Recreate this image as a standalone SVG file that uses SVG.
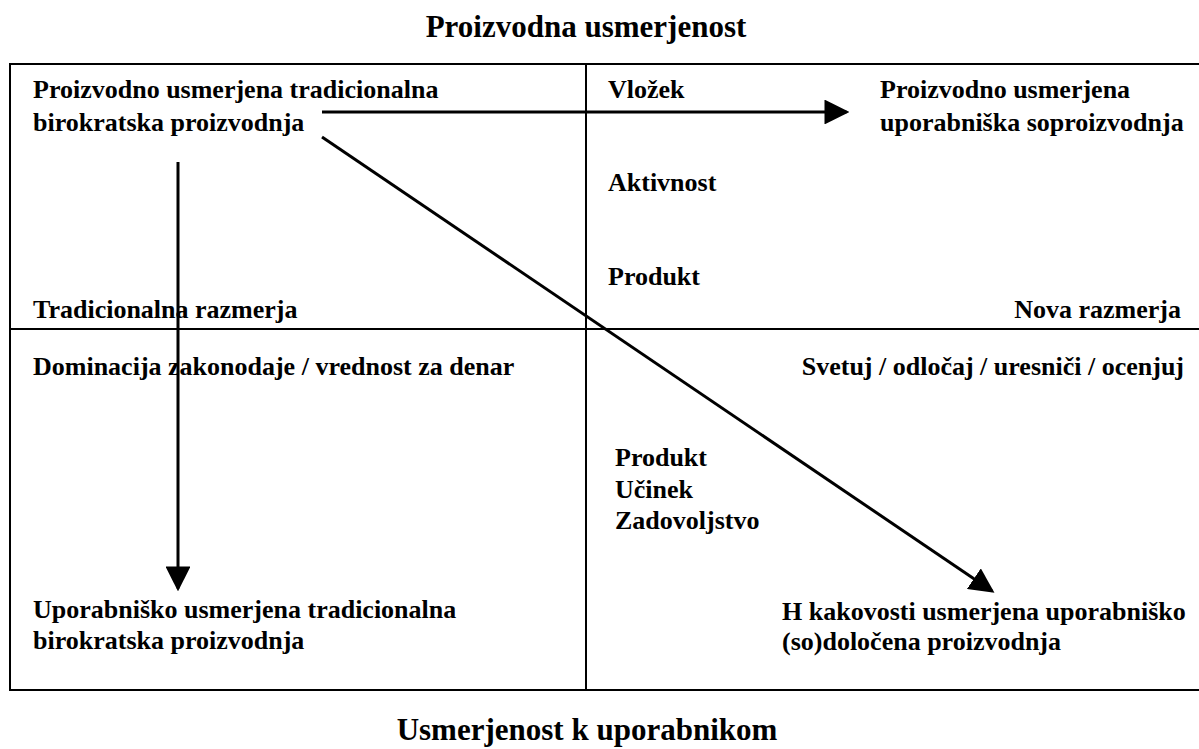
<svg xmlns="http://www.w3.org/2000/svg" width="1199" height="749" viewBox="0 0 1199 749">
  <style>
    .t { font-family: "Liberation Serif", "Times New Roman", serif; font-weight: bold; font-size: 26px; fill: #000; }
    .h { font-family: "Liberation Serif", "Times New Roman", serif; font-weight: bold; font-size: 31px; fill: #000; text-anchor: middle; }
    .frame { fill: none; stroke: #000; stroke-width: 2; }
    .arrow { fill: none; stroke: #000; stroke-width: 3; }
  </style>
  <defs>
    <marker id="head" viewBox="0 0 10 10" refX="8.8" refY="5" markerWidth="8.3" markerHeight="8.3" markerUnits="strokeWidth" orient="auto">
      <path d="M0,0 L10,5 L0,10 Z" fill="#000"/>
    </marker>
  </defs>

  <rect width="1199" height="749" fill="#fff"/>

  <text class="h" x="586" y="37">Proizvodna usmerjenost</text>
  <text class="h" x="587" y="740">Usmerjenost k uporabnikom</text>

  <!-- quadrant frame, open on the right -->
  <g id="frame">
    <path class="frame" d="M1205,64 H10 V690 H1205"/>
    <line class="frame" x1="586" y1="64" x2="586" y2="690"/>
    <line class="frame" x1="10" y1="329" x2="1205" y2="329"/>
  </g>

  <g id="q-top-left">
    <text class="t" x="33" y="98">Proizvodno usmerjena tradicionalna</text>
    <text class="t" x="33" y="131">birokratska proizvodnja</text>
    <text class="t" x="33" y="318">Tradicionalna razmerja</text>
  </g>

  <g id="q-top-right">
    <text class="t" x="608" y="98">Vložek</text>
    <text class="t" x="608" y="191">Aktivnost</text>
    <text class="t" x="608" y="285">Produkt</text>
    <text class="t" x="880" y="98">Proizvodno usmerjena</text>
    <text class="t" x="880" y="131">uporabniška soproizvodnja</text>
    <text class="t" x="1181" y="318" text-anchor="end">Nova razmerja</text>
  </g>

  <g id="q-bottom-left">
    <text class="t" x="33" y="375">Dominacija zakonodaje / vrednost za denar</text>
    <text class="t" x="33" y="618">Uporabniško usmerjena tradicionalna</text>
    <text class="t" x="33" y="649">birokratska proizvodnja</text>
  </g>

  <g id="q-bottom-right">
    <text class="t" x="1184" y="375" text-anchor="end">Svetuj / odločaj / uresniči / ocenjuj</text>
    <text class="t" x="615" y="466">Produkt</text>
    <text class="t" x="615" y="498">Učinek</text>
    <text class="t" x="615" y="529">Zadovoljstvo</text>
    <text class="t" x="782" y="620">H kakovosti usmerjena uporabniško</text>
    <text class="t" x="782" y="650">(so)določena proizvodnja</text>
  </g>

  <g id="connectors">
    <line class="arrow" x1="322" y1="112" x2="846.4" y2="112" marker-end="url(#head)"/>
    <line class="arrow" x1="178" y1="162" x2="178" y2="588.4" marker-end="url(#head)"/>
    <line class="arrow" x1="322" y1="137" x2="992" y2="591" marker-end="url(#head)"/>
  </g>
</svg>
